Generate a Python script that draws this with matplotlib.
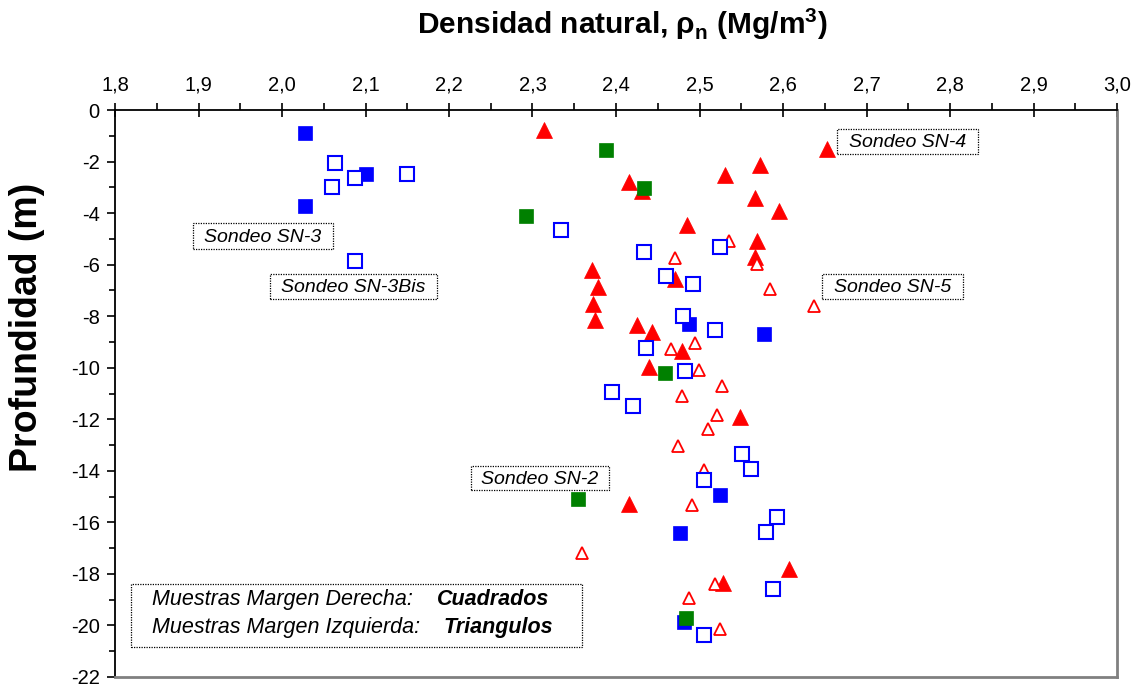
import matplotlib
matplotlib.use("Agg")
import matplotlib.pyplot as plt
from matplotlib.patches import Rectangle
import numpy as np

plt.rcParams['font.family'] = ['Liberation Sans', 'DejaVu Sans']
plt.rcParams['mathtext.fontset'] = 'custom'
plt.rcParams['mathtext.rm'] = 'Liberation Sans'
plt.rcParams['mathtext.bf'] = 'Liberation Sans:bold'

# ---------------- data ----------------
x_ticks = [1.8, 1.9, 2.0, 2.1, 2.2, 2.3, 2.4, 2.5, 2.6, 2.7, 2.8, 2.9, 3.0]
x_tick_labels = ["1,8", "1,9", "2,0", "2,1", "2,2", "2,3", "2,4", "2,5", "2,6", "2,7", "2,8", "2,9", "3,0"]
y_ticks = [0, -2, -4, -6, -8, -10, -12, -14, -16, -18, -20, -22]
y_tick_labels = ["0", "-2", "-4", "-6", "-8", "-10", "-12", "-14", "-16", "-18", "-20", "-22"]

blue_filled_x = [2.028, 2.101, 2.027, 2.488, 2.577, 2.525, 2.477, 2.481]
blue_filled_d = [-0.88, -2.50, -3.71, -8.29, -8.71, -14.92, -16.41, -19.86]

blue_open_x = [2.063, 2.088, 2.150, 2.060, 2.088, 2.334, 2.434, 2.524, 2.460, 2.492,
               2.480, 2.519, 2.436, 2.483, 2.395, 2.420, 2.551, 2.562, 2.505, 2.593,
               2.580, 2.588, 2.505]
blue_open_d = [-2.05, -2.62, -2.50, -3.00, -5.87, -4.67, -5.51, -5.32, -6.45, -6.75,
               -7.98, -8.52, -9.23, -10.14, -10.96, -11.47, -13.35, -13.92, -14.36, -15.78,
               -16.38, -18.60, -20.38]

green_x = [2.388, 2.434, 2.292, 2.459, 2.355, 2.484]
green_d = [-1.57, -3.02, -4.12, -10.21, -15.08, -19.71]

red_filled_x = [2.314, 2.653, 2.573, 2.530, 2.416, 2.431, 2.567, 2.595, 2.485, 2.569,
                2.566, 2.471, 2.371, 2.378, 2.373, 2.375, 2.425, 2.443, 2.479, 2.440,
                2.548, 2.415, 2.607, 2.528]
red_filled_d = [-0.79, -1.50, -2.12, -2.51, -2.81, -3.15, -3.42, -3.93, -4.45, -5.08,
                -5.70, -6.54, -6.19, -6.87, -7.51, -8.13, -8.35, -8.61, -9.35, -9.97,
                -11.91, -15.30, -17.80, -18.37]

red_open_x = [2.535, 2.471, 2.569, 2.585, 2.637, 2.466, 2.495, 2.499, 2.527, 2.479,
              2.521, 2.510, 2.474, 2.505, 2.491, 2.359, 2.519, 2.487, 2.525]
red_open_d = [-5.10, -5.74, -5.96, -6.93, -7.62, -9.26, -9.04, -10.07, -10.70, -11.10,
              -11.85, -12.37, -13.04, -13.97, -15.33, -17.20, -18.40, -18.95, -20.15]

sondeo_labels = ["Sondeo SN-3", "Sondeo SN-3Bis", "Sondeo SN-4", "Sondeo SN-5", "Sondeo SN-2"]

# ---------------- figure ----------------
W, H = 1140, 688
fig = plt.figure(figsize=(W / 100, H / 100), dpi=100)
L, R, T, B = 115, 1117, 110, 677
ax = fig.add_axes([L / W, 1 - B / H, (R - L) / W, (B - T) / H])

ax.plot(red_filled_x, red_filled_d, ls='none', marker='^', ms=11, mfc='#FF0000',
        mec='#FF0000', mew=0.5, zorder=3, clip_on=False)
ax.plot(red_open_x, red_open_d, ls='none', marker='^', ms=9, mfc='white',
        mec='#FF0000', mew=1.3, zorder=4, clip_on=False)
ax.plot(blue_filled_x, blue_filled_d, ls='none', marker='s', ms=10, mfc='#0000FF',
        mec='#0000FF', mew=0.5, zorder=5, clip_on=False)
ax.plot(blue_open_x, blue_open_d, ls='none', marker='s', ms=9.5, mfc='white',
        mec='#0000FF', mew=1.5, zorder=6, clip_on=False)
ax.plot(green_x, green_d, ls='none', marker='s', ms=10, mfc='#008000',
        mec='#008000', mew=0.5, zorder=7, clip_on=False)

ax.set_xlim(1.8, 3.0)
ax.set_ylim(-22, 0)

ax.xaxis.tick_top()
ax.set_xticks(x_ticks)
ax.set_xticklabels(x_tick_labels)
ax.set_xticks(np.arange(1.85, 3.0, 0.1), minor=True)
ax.set_yticks(y_ticks)
ax.set_yticklabels(y_tick_labels)
ax.set_yticks(np.arange(-21, 0, 2), minor=True)

ax.tick_params(axis='x', which='major', direction='inout', length=10, width=1.2,
               labelsize=14.5, pad=6, top=True, bottom=False)
ax.tick_params(axis='x', which='minor', direction='out', length=5, width=1.2,
               top=True, bottom=False)
ax.tick_params(axis='y', which='major', direction='out', length=6, width=1.2,
               labelsize=14.5, pad=5)
ax.tick_params(axis='y', which='minor', direction='out', length=4, width=1.2)

ax.spines['top'].set_color('black')
ax.spines['top'].set_linewidth(1.3)
ax.spines['left'].set_color('black')
ax.spines['left'].set_linewidth(1.3)
ax.spines['right'].set_color('#808080')
ax.spines['right'].set_linewidth(2)
ax.spines['bottom'].set_color('#808080')
ax.spines['bottom'].set_linewidth(2)

# titles
fig.text(622 / W, 1 - 34 / H, r'Densidad natural, ρ$_\mathbf{n}$ (Mg/m$^\mathbf{3}$)',
         ha='center', va='baseline', fontsize=21.5, fontweight='bold')
fig.text(27 / W, 1 - 327 / H, 'Profundidad (m)', ha='center', va='center',
         rotation=90, fontsize=27, fontweight='bold')


def px_box(x0, y0, x1, y1):
    r = Rectangle((x0 / W, 1 - y1 / H), (x1 - x0) / W, (y1 - y0) / H,
                  transform=fig.transFigure, facecolor='white', edgecolor='black',
                  linestyle=(0, (1, 1)), linewidth=0.9, zorder=10)
    fig.add_artist(r)


boxes = [(193, 223, 333, 249), (270, 274, 437, 299), (837, 129, 978, 154),
         (822, 274, 963, 299), (471, 466, 609, 490)]
for label, (x0, y0, x1, y1) in zip(sondeo_labels, boxes):
    px_box(x0, y0, x1, y1)
    fig.text((x0 + x1) / 2 / W, 1 - ((y0 + y1) / 2 + 1) / H, label, ha='center',
             va='center', fontsize=14, style='italic', zorder=11)

# note box
px_box(131, 584, 582, 647)
fig.text(152 / W, 1 - 605 / H, 'Muestras Margen Derecha:', ha='left', va='baseline',
         fontsize=15.5, style='italic', zorder=11)
fig.text(437 / W, 1 - 605 / H, 'Cuadrados', ha='left', va='baseline',
         fontsize=15.5, style='italic', fontweight='bold', zorder=11)
fig.text(152 / W, 1 - 633.5 / H, 'Muestras Margen Izquierda:', ha='left', va='baseline',
         fontsize=15.5, style='italic', zorder=11)
fig.text(443 / W, 1 - 633.5 / H, 'Triangulos', ha='left', va='baseline',
         fontsize=15.5, style='italic', fontweight='bold', zorder=11)

fig.savefig('out.png', dpi=100)
